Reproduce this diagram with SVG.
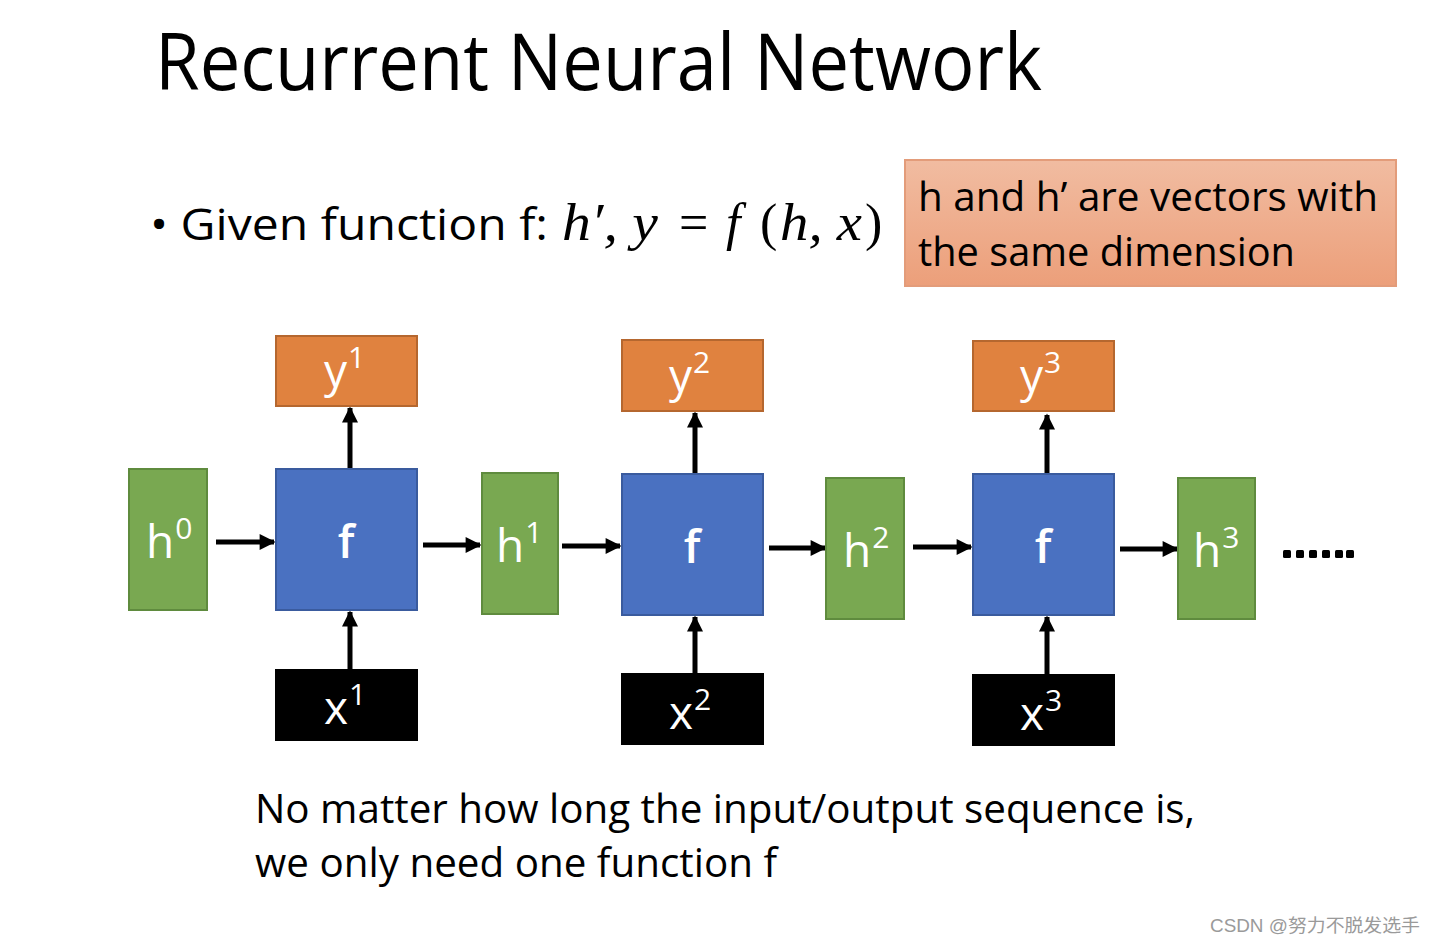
<svg xmlns="http://www.w3.org/2000/svg" width="1436" height="944" viewBox="0 0 1436 944">
<defs>
<style>
.t{font-family:"Open Sans","Noto Sans",sans-serif;fill:#000}
.lbl{font-family:"Open Sans","Noto Sans",sans-serif;fill:#fff;font-size:46px}
.sup{font-size:30px}
.g{fill:#79A851;stroke:#5F8B3E;stroke-width:2}
.b{fill:#4A71C1;stroke:#3A5B9E;stroke-width:2}
.o{fill:#E0823F;stroke:#B5672F;stroke-width:2}
.k{fill:#000}
.c{stroke:#000;stroke-width:5;fill:none;marker-end:url(#ah)}
.m{font-family:"Liberation Serif","DejaVu Serif",serif;font-style:italic;font-size:52px;fill:#000}
</style>
<marker id="ah" viewBox="0 0 10 10" refX="9" refY="5" markerWidth="3.6" markerHeight="3.2" orient="auto" markerUnits="strokeWidth">
<path d="M0,0 L10,5 L0,10 z" fill="#000"/>
</marker>
<linearGradient id="og" x1="0" y1="0" x2="0" y2="1">
<stop offset="0" stop-color="#F1BCA1"/>
<stop offset="1" stop-color="#EC9F7A"/>
</linearGradient>
</defs>
<rect width="1436" height="944" fill="#fff"/>
<text class="t" x="155" y="90" font-size="78" textLength="887" lengthAdjust="spacingAndGlyphs">Recurrent Neural Network</text>
<g id="given">
<text class="t" x="150" y="240" font-size="44" textLength="398" lengthAdjust="spacingAndGlyphs">• Given function f:</text>
<text class="m" x="562" y="240" textLength="96" lengthAdjust="spacingAndGlyphs">h′, y</text>
<text class="m" x="679" y="240" style="font-style:normal">=</text>
<text class="m" x="726" y="240">f</text>
<text class="m" x="760" y="240" style="font-style:normal">(</text>
<text class="m" x="780" y="240" textLength="82" lengthAdjust="spacingAndGlyphs">h, x</text>
<text class="m" x="865" y="240" style="font-style:normal">)</text>
</g>
<g id="note">
<rect x="905" y="160" width="491" height="126" fill="url(#og)" stroke="#E39C7A" stroke-width="2"/>
<text class="t" x="918" y="211" font-size="40" textLength="460" lengthAdjust="spacingAndGlyphs">h and h’ are vectors with</text>
<text class="t" x="918" y="266" font-size="40" textLength="377" lengthAdjust="spacingAndGlyphs">the same dimension</text>
</g>
<g id="connectors">
<line class="c" x1="216" y1="542" x2="274" y2="542"/>
<line class="c" x1="423" y1="545" x2="480" y2="545"/>
<line class="c" x1="562" y1="546" x2="620" y2="546"/>
<line class="c" x1="769" y1="548" x2="825" y2="548"/>
<line class="c" x1="913" y1="547" x2="971" y2="547"/>
<line class="c" x1="1120" y1="549" x2="1177" y2="549"/>
<line class="c" x1="350" y1="468" x2="350" y2="408"/>
<line class="c" x1="350" y1="669" x2="350" y2="612"/>
<line class="c" x1="695" y1="473" x2="695" y2="413"/>
<line class="c" x1="695" y1="673" x2="695" y2="617"/>
<line class="c" x1="1047" y1="473" x2="1047" y2="415"/>
<line class="c" x1="1047" y1="674" x2="1047" y2="617"/>
</g>
<g id="h0"><rect class="g" x="129" y="469" width="78" height="141"/><text class="lbl" x="146" y="558">h<tspan class="sup" dx="1" dy="-19">0</tspan></text></g>
<g id="f1"><rect class="b" x="276" y="469" width="141" height="141"/><text class="lbl" x="346" y="558" text-anchor="middle" font-weight="600">f</text></g>
<g id="y1"><rect class="o" x="276" y="336" width="141" height="70"/><text class="lbl" x="324" y="387">y<tspan class="sup" dx="1" dy="-19">1</tspan></text></g>
<g id="x1"><rect class="k" x="275" y="669" width="143" height="72"/><text class="lbl" x="324" y="724">x<tspan class="sup" dx="1" dy="-19">1</tspan></text></g>
<g id="h1"><rect class="g" x="482" y="473" width="76" height="141"/><text class="lbl" x="496" y="562">h<tspan class="sup" dx="1" dy="-19">1</tspan></text></g>
<g id="f2"><rect class="b" x="622" y="474" width="141" height="141"/><text class="lbl" x="692" y="563" text-anchor="middle" font-weight="600">f</text></g>
<g id="y2"><rect class="o" x="622" y="340" width="141" height="71"/><text class="lbl" x="669" y="392">y<tspan class="sup" dx="1" dy="-19">2</tspan></text></g>
<g id="x2"><rect class="k" x="621" y="673" width="143" height="72"/><text class="lbl" x="669" y="729">x<tspan class="sup" dx="1" dy="-19">2</tspan></text></g>
<g id="h2"><rect class="g" x="826" y="478" width="78" height="141"/><text class="lbl" x="843" y="567">h<tspan class="sup" dx="1" dy="-19">2</tspan></text></g>
<g id="f3"><rect class="b" x="973" y="474" width="141" height="141"/><text class="lbl" x="1043" y="563" text-anchor="middle" font-weight="600">f</text></g>
<g id="y3"><rect class="o" x="973" y="341" width="141" height="70"/><text class="lbl" x="1020" y="392">y<tspan class="sup" dx="1" dy="-19">3</tspan></text></g>
<g id="x3"><rect class="k" x="972" y="674" width="143" height="72"/><text class="lbl" x="1020" y="730">x<tspan class="sup" dx="1" dy="-19">3</tspan></text></g>
<g id="h3"><rect class="g" x="1178" y="478" width="77" height="141"/><text class="lbl" x="1193" y="567">h<tspan class="sup" dx="1" dy="-19">3</tspan></text></g>
<g id="dots" fill="#000">
<rect x="1283" y="550" width="8" height="8" rx="1.5"/>
<rect x="1296" y="550" width="8" height="8" rx="1.5"/>
<rect x="1309" y="550" width="8" height="8" rx="1.5"/>
<rect x="1322" y="550" width="8" height="8" rx="1.5"/>
<rect x="1335" y="550" width="8" height="8" rx="1.5"/>
<rect x="1346" y="550" width="8" height="8" rx="1.5"/>
</g>
<text class="t" x="255" y="823" font-size="40" textLength="940" lengthAdjust="spacingAndGlyphs">No matter how long the input/output sequence is,</text>
<text class="t" x="255" y="877" font-size="40" textLength="522" lengthAdjust="spacingAndGlyphs">we only need one function f</text>
<text x="1210" y="932" font-size="18" fill="#9a9a9a" font-family="'Liberation Sans','Noto Sans CJK SC',sans-serif" textLength="210" lengthAdjust="spacingAndGlyphs">CSDN @努力不脱发选手</text>
</svg>
